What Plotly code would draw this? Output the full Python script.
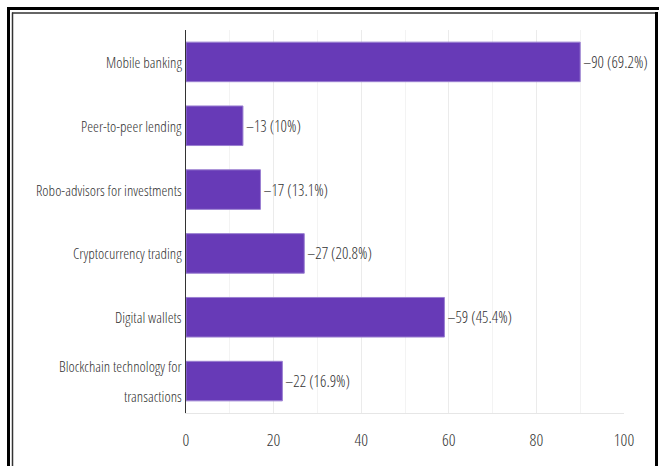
import plotly.graph_objects as go

# Survey responses: which digital finance services are used
categories = [
    "Mobile banking",
    "Peer-to-peer lending",
    "Robo-advisors for investments",
    "Cryptocurrency trading",
    "Digital wallets",
    "Blockchain technology for<br>transactions",
]
counts = [90, 13, 17, 27, 59, 22]
percents = ["69.2%", "10%", "13.1%", "20.8%", "45.4%", "16.9%"]
x_ticks = [0, 20, 40, 60, 80, 100]

W, H = 659, 466
ML, MR, MT, MB = 186, 35, 30, 53
PW, PH = W - ML - MR, H - MT - MB

FONT = "Open Sans Condensed Light, Roboto Condensed, Liberation Sans, sans-serif"
TXT = "#333333"

fig = go.Figure(
    go.Bar(
        y=categories,
        x=counts,
        orientation="h",
        width=0.62,
        marker=dict(color="#673ab7", line=dict(color="#9a7fd1", width=1)),
        text=[f"\u2013{c} ({p})" for c, p in zip(counts, percents)],
        textposition="outside",
        textfont=dict(family=FONT, size=16, color=TXT),
        cliponaxis=False,
        hoverinfo="skip",
    )
)

# category labels, multi-line ones spread out with generous spacing
for cat in categories:
    lines = cat.split("<br>")
    n = len(lines)
    for i, line in enumerate(lines):
        fig.add_annotation(
            x=0, xref="paper", y=cat, yref="y",
            xanchor="right", yanchor="middle", xshift=-2,
            yshift=(n - 1) * 15 - i * 30,
            text=line, showarrow=False,
            font=dict(family=FONT, size=15, color=TXT),
        )


def px_x(p):
    return (p - ML) / PW


def px_y(p):
    return 1 - (p - MT) / PH


# decorative double frame around the chart
shapes = [
    dict(type="line", xref="paper", yref="paper", x0=px_x(8.5), x1=px_x(8.5),
         y0=px_y(8), y1=px_y(470), line=dict(color="black", width=3)),
    dict(type="line", xref="paper", yref="paper", x0=px_x(7), x1=px_x(659),
         y0=px_y(8.5), y1=px_y(8.5), line=dict(color="black", width=3)),
    dict(type="line", xref="paper", yref="paper", x0=px_x(12.5), x1=px_x(12.5),
         y0=px_y(12.5), y1=px_y(470), line=dict(color="#333333", width=1.5)),
    dict(type="line", xref="paper", yref="paper", x0=px_x(12), x1=px_x(655),
         y0=px_y(13), y1=px_y(13), line=dict(color="#333333", width=1.5)),
    dict(type="line", xref="paper", yref="paper", x0=px_x(656.5), x1=px_x(656.5),
         y0=px_y(12), y1=px_y(470), line=dict(color="black", width=3)),
]

fig.update_layout(
    width=W,
    height=H,
    margin=dict(l=ML, r=MR, t=MT, b=MB, pad=0, autoexpand=False),
    paper_bgcolor="white",
    plot_bgcolor="white",
    showlegend=False,
    shapes=shapes,
    font=dict(family=FONT, color=TXT, size=16),
    xaxis=dict(
        range=[0, 100],
        tickvals=x_ticks,
        ticks="",
        showgrid=True,
        gridcolor="#ebebeb",
        gridwidth=1,
        minor=dict(dtick=10, showgrid=True, gridcolor="#f3f3f3"),
        zeroline=False,
        showline=True,
        linecolor="#e6e6e6",
        tickfont=dict(family=FONT, size=17, color=TXT),
        ticklabelstandoff=12,
        automargin=False,
        fixedrange=True,
    ),
    yaxis=dict(
        categoryorder="array",
        categoryarray=categories[::-1],
        autorange=True,
        showline=True,
        linecolor="#333333",
        linewidth=1,
        showgrid=False,
        showticklabels=False,
        ticks="",
        automargin=False,
        fixedrange=True,
    ),
)

fig.write_html("out.html")
